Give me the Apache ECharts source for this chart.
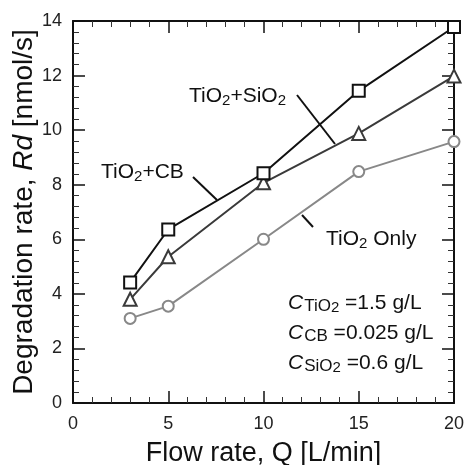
<!DOCTYPE html>
<html><head><meta charset="utf-8">
<script src="https://cdn.jsdelivr.net/npm/echarts@6/dist/echarts.min.js"></script>
<style>html,body{margin:0;padding:0;background:#fff}#c{width:467px;height:465px}</style>
</head><body><div id="c"></div>
<script>
const flowRates = [3, 5, 10, 15, 20];
const tio2SiO2 = [4.42, 6.36, 8.42, 11.44, 13.78];
const tio2CB = [3.80, 5.36, 8.07, 9.88, 11.98];
const tio2Only = [3.10, 3.55, 6.0, 8.48, 9.58];
const xTicks = [0, 5, 10, 15, 20];
const yTicks = [0, 2, 4, 6, 8, 10, 12, 14];

const FONT = 'Liberation Sans';
const chart = echarts.init(document.getElementById('c'));
const pair = arr => flowRates.map((x, i) => [x, arr[i]]);
const baseAxis = {
  axisLine: {show: true, onZero: false, lineStyle: {color: '#111', width: 2}},
  axisTick: {show: true, inside: true, length: 12, lineStyle: {color: '#111', width: 1.5}},
  minorTick: {show: true, splitNumber: 5, length: 6, lineStyle: {color: '#333', width: 1}},
  splitLine: {show: false}
};
const rich = {
  n: {fontSize: 21, fontFamily: FONT, color: '#111', lineHeight: 24, verticalAlign: 'middle'},
  s: {fontSize: 15, fontFamily: FONT, color: '#111', lineHeight: 12, verticalAlign: 'bottom', padding: [12, 0, 0, 0]},
  s2: {fontSize: 17, fontFamily: FONT, color: '#111', lineHeight: 12, verticalAlign: 'bottom', padding: [12, 0, 0, 1]},
  ni: {fontSize: 21, fontFamily: FONT, fontStyle: 'italic', color: '#111', lineHeight: 24, verticalAlign: 'middle'}
};
function txt(x, y, s) {
  return {type: 'text', left: x, top: y, style: {text: s, rich: rich, font: '21px ' + FONT, fill: '#111'}};
}
function ln(x1, y1, x2, y2) {
  return {type: 'line', shape: {x1, y1, x2, y2}, style: {stroke: '#111', lineWidth: 2}};
}
const nameRich = {a: {fontSize: 27, fontFamily: FONT, color: '#111'}};
chart.setOption({
  animation: false,
  grid: {left: 73, top: 21, right: 13, bottom: 62, containLabel: false, outerBoundsMode: 'none'},
  xAxis: [
    Object.assign({}, baseAxis, {
      type: 'value', min: 0, max: 20, interval: 5,
      axisLabel: {fontSize: 18, fontFamily: FONT, color: '#222', margin: 12},
      name: '{a|Flow rate, Q [L/min]}', nameLocation: 'middle', nameGap: 37, nameMoveOverlap: false,
      nameTextStyle: {rich: nameRich}
    }),
    Object.assign({}, baseAxis, {
      type: 'value', min: 0, max: 20, interval: 5, position: 'top',
      axisLabel: {show: false}
    })
  ],
  yAxis: [
    Object.assign({}, baseAxis, {
      type: 'value', min: 0, max: 14, interval: 2,
      axisLabel: {fontSize: 18, fontFamily: FONT, color: '#222', margin: 11},
      name: '{a|Degradation rate, }{b|Rd}{a| [nmol/s]}', nameLocation: 'middle', nameGap: 35, nameRotate: 90, nameMoveOverlap: false,
      nameTextStyle: {rich: {a: {fontSize: 28, fontFamily: FONT, color: '#111'}, b: {fontSize: 28, fontFamily: FONT, fontStyle: 'italic', color: '#111'}}}
    }),
    Object.assign({}, baseAxis, {
      type: 'value', min: 0, max: 14, interval: 2, position: 'right',
      axisLabel: {show: false}
    })
  ],
  series: [
    {type: 'line', data: pair(tio2Only), symbol: 'circle', symbolSize: 11,
      lineStyle: {color: '#888', width: 2}, itemStyle: {color: '#fff', borderColor: '#888', borderWidth: 2}, z: 3},
    {type: 'line', data: pair(tio2CB), symbol: 'triangle', symbolSize: 13,
      lineStyle: {color: '#3a3a3a', width: 2}, itemStyle: {color: '#fff', borderColor: '#3a3a3a', borderWidth: 2}, z: 4},
    {type: 'line', data: pair(tio2SiO2), symbol: 'rect', symbolSize: 12,
      lineStyle: {color: '#111', width: 2}, itemStyle: {color: '#fff', borderColor: '#111', borderWidth: 2}, z: 5}
  ],
  graphic: [
    txt(189, 81, '{n|TiO}{s|2}{n|+SiO}{s|2}'),
    txt(101, 157, '{n|TiO}{s|2}{n|+CB}'),
    txt(326, 224, '{n|TiO}{s|2}{n| Only}'),
    txt(288, 286, '{ni|C}{s2|TiO}{s|2}{n| =1.5 g/L}'),
    txt(288, 316, '{ni|C}{s2|CB}{n| =0.025 g/L}'),
    txt(288, 346, '{ni|C}{s2|SiO}{s|2}{n| =0.6 g/L}'),
    ln(297, 95, 335, 144),
    ln(193, 177, 217, 200),
    ln(302, 215, 313, 227)
  ]
});
</script></body></html>
